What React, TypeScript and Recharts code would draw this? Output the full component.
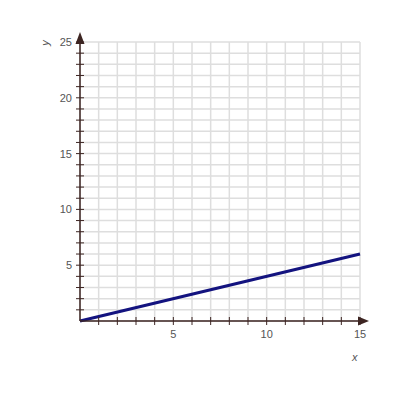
import {
  LineChart,
  Line,
  XAxis,
  YAxis,
  CartesianGrid,
  ReferenceDot,
} from 'recharts';

const xValues = [0, 15];
const yValues = [0, 6];
const xTicks = [0, 1, 2, 3, 4, 5, 6, 7, 8, 9, 10, 11, 12, 13, 14, 15];
const yTicks = [
  0, 1, 2, 3, 4, 5, 6, 7, 8, 9, 10, 11, 12, 13, 14, 15, 16, 17, 18, 19, 20,
  21, 22, 23, 24, 25,
];
const labelledTicks = [5, 10, 15, 20, 25];

const AXIS_COLOR = '#3d2522';
const GRID_COLOR = '#dedede';
const LINE_COLOR = '#13137f';
const TEXT_COLOR = '#555';
const FONT = 'Arial, "Liberation Sans", sans-serif';

const data = xValues.map((x, i) => ({ x, y: yValues[i] }));

function XTick({ x, y, payload }: any) {
  const show = labelledTicks.includes(payload.value);
  return (
    <g>
      {payload.value !== 0 && (
        <line x1={x} x2={x} y1={y - 4} y2={y + 4} stroke={AXIS_COLOR} strokeWidth={1} />
      )}
      {show && (
        <text x={x} y={y + 17} textAnchor="middle" fontSize={11} fill={TEXT_COLOR} stroke="none" fontFamily={FONT}>
          {payload.value}
        </text>
      )}
    </g>
  );
}

function YTick({ x, y, payload }: any) {
  const show = labelledTicks.includes(payload.value);
  return (
    <g>
      {payload.value !== 0 && (
        <line x1={x - 4} x2={x + 4} y1={y} y2={y} stroke={AXIS_COLOR} strokeWidth={1} />
      )}
      {show && (
        <text x={x - 8} y={y + 4} textAnchor="end" fontSize={11} fill={TEXT_COLOR} stroke="none" fontFamily={FONT}>
          {payload.value}
        </text>
      )}
    </g>
  );
}

function RightArrow({ cx, cy }: any) {
  return (
    <path
      d={`M${cx - 2},${cy - 4.5} L${cx + 9},${cy} L${cx - 2},${cy + 4.5} Z`}
      fill={AXIS_COLOR}
    />
  );
}

function UpArrow({ cx, cy }: any) {
  return (
    <path
      d={`M${cx - 4.5},${cy + 2} L${cx},${cy - 10} L${cx + 4.5},${cy + 2} Z`}
      fill={AXIS_COLOR}
    />
  );
}

export default function App() {
  return (
    <div style={{ position: 'absolute', left: 0, top: 0, width: 400, height: 400, background: '#fff' }}>
      <LineChart
        width={400}
        height={400}
        data={data}
        margin={{ top: 42, right: 40, bottom: 49, left: 50 }}
      >
        <CartesianGrid stroke={GRID_COLOR} strokeWidth={1.5} />
        <XAxis
          dataKey="x"
          type="number"
          domain={[0, 15]}
          ticks={xTicks}
          interval={0}
          height={30}
          tickSize={0}
          tickMargin={0}
          axisLine={{ stroke: AXIS_COLOR, strokeWidth: 1.5 }}
          tickLine={false}
          tick={<XTick />}
        />
        <YAxis
          type="number"
          domain={[0, 25]}
          ticks={yTicks}
          interval={0}
          width={30}
          tickSize={0}
          tickMargin={0}
          axisLine={{ stroke: AXIS_COLOR, strokeWidth: 1.5 }}
          tickLine={false}
          tick={<YTick />}
        />
        <ReferenceDot x={15} y={0} ifOverflow="visible" shape={<RightArrow />} />
        <ReferenceDot x={0} y={25} ifOverflow="visible" shape={<UpArrow />} />
        <Line
          type="linear"
          dataKey="y"
          stroke={LINE_COLOR}
          strokeWidth={3}
          dot={false}
          isAnimationActive={false}
        />
      </LineChart>
      <div
        style={{
          position: 'absolute',
          left: 42,
          top: 37,
          transform: 'rotate(-90deg)',
          fontFamily: FONT,
          fontSize: 11,
          fontStyle: 'italic',
          color: TEXT_COLOR,
        }}
      >
        y
      </div>
      <div
        style={{
          position: 'absolute',
          left: 352,
          top: 351,
          fontFamily: FONT,
          fontSize: 11,
          fontStyle: 'italic',
          color: TEXT_COLOR,
        }}
      >
        x
      </div>
    </div>
  );
}
